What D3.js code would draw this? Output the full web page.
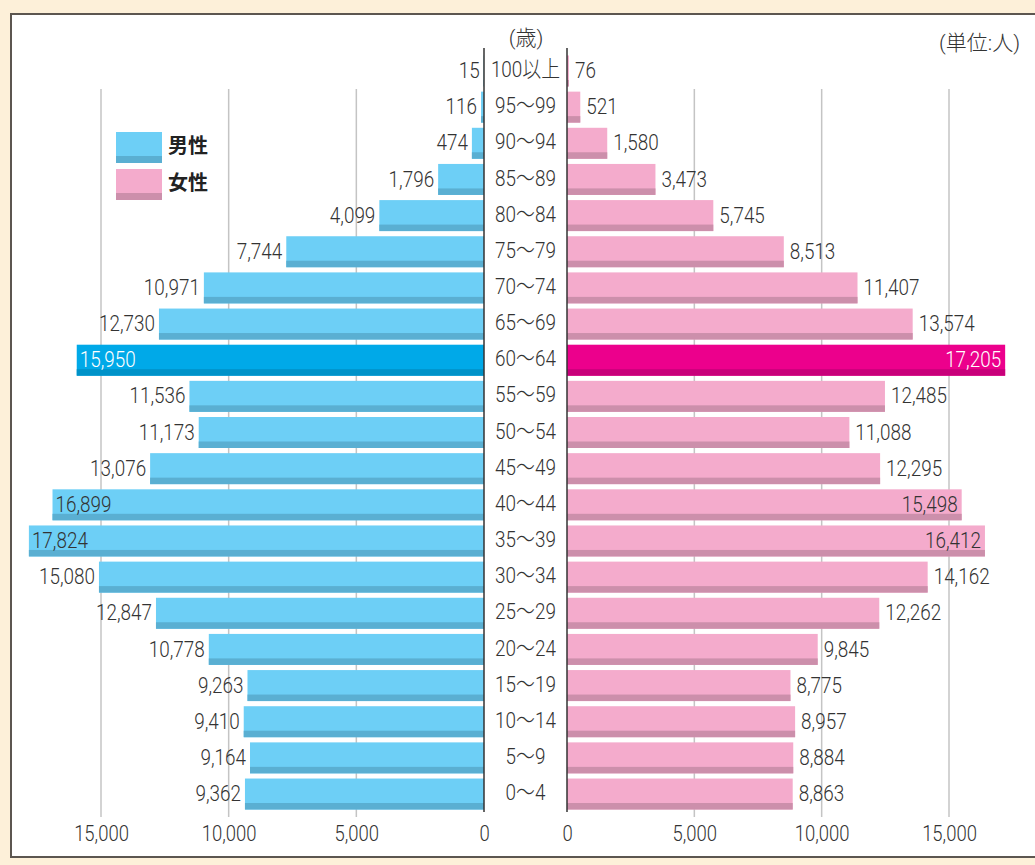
<!DOCTYPE html>
<meta charset="utf-8">
<style>
body { margin: 0; background: #fdf0d9; }
svg { display: block; }
.num { font-family: Roboto, "Noto Sans CJK JP", sans-serif; font-weight: 300; font-size: 22.5px; fill: #333; }
.head { font-family: Roboto, "Noto Sans CJK JP", sans-serif; font-weight: 300; font-size: 21px; fill: #333; }
.grid { stroke: #c4c4c4; stroke-width: 1.5; }
.axis path { display: none; }
.axis line { display: none; }
.axis text { font-family: Roboto, sans-serif; font-weight: 300; font-size: 22px; fill: #333; }
.legend { font-family: "Noto Sans CJK JP", sans-serif; font-size: 20px; font-weight: bold; fill: #222; }
</style>
<body>
<script src="https://d3js.org/d3.v7.min.js"></script>
<script>

var ages = ["100以上", "95～99", "90～94", "85～89", "80～84", "75～79", "70～74", "65～69",
  "60～64", "55～59", "50～54", "45～49", "40～44", "35～39", "30～34", "25～29",
  "20～24", "15～19", "10～14", "5～9", "0～4"];

var male = [15, 116, 474, 1796, 4099, 7744, 10971, 12730, 15950, 11536, 11173, 13076,
  16899, 17824, 15080, 12847, 10778, 9263, 9410, 9164, 9362];

var female = [76, 521, 1580, 3473, 5745, 8513, 11407, 13574, 17205, 12485, 11088, 12295,
  15498, 16412, 14162, 12262, 9845, 8775, 8957, 8884, 8863];

var ticks = [0, 5000, 10000, 15000];
var highlight = "60～64";

var width = 1035,
    height = 865;

// the original type is a narrow face, so squeeze the text a bit
var squeeze = 0.84;

var svg = d3.select("body").append("svg")
    .attr("width", width)
    .attr("height", height);

// white panel
svg.append("rect")
    .attr("x", 11).attr("y", 14)
    .attr("width", width + 20).attr("height", 843)
    .attr("fill", "#fff")
    .attr("stroke", "#5c5650")
    .attr("stroke-width", 2);

var xL = d3.scaleLinear().domain([0, 15000]).range([484, 101]);
var xR = d3.scaleLinear().domain([0, 15000]).range([567, 949]);

var y = d3.scaleBand()
    .domain(ages)
    .range([52.9, 812.1])
    .paddingInner(0.143)
    .paddingOuter(0.0715);

var rows = ages.map(function(a, i) { return {age: a, m: male[i], f: female[i]}; });

function place(x, yy) {
  return "translate(" + x + "," + yy + ") scale(" + squeeze + ",1)";
}

// grid lines
svg.append("g").selectAll("line")
  .data(ticks.slice(1))
  .enter().append("line")
    .attr("class", "grid")
    .attr("x1", function(d) { return xL(d); }).attr("x2", function(d) { return xL(d); })
    .attr("y1", 89).attr("y2", 817);

svg.append("g").selectAll("line")
  .data(ticks.slice(1))
  .enter().append("line")
    .attr("class", "grid")
    .attr("x1", function(d) { return xR(d); }).attr("x2", function(d) { return xR(d); })
    .attr("y1", 89).attr("y2", 817);

var strip = 6.5;

// male bars
var gm = svg.append("g").selectAll("g")
  .data(rows)
  .enter().append("g");

gm.append("rect")
    .attr("x", function(d) { return xL(d.m); })
    .attr("y", function(d) { return y(d.age); })
    .attr("width", function(d) { return xL(0) - xL(d.m); })
    .attr("height", y.bandwidth())
    .attr("fill", function(d) { return d.age == highlight ? "#00a9e8" : "#6dcff6"; });

gm.append("rect")
    .attr("x", function(d) { return xL(d.m); })
    .attr("y", function(d) { return y(d.age) + y.bandwidth() - strip; })
    .attr("width", function(d) { return xL(0) - xL(d.m); })
    .attr("height", strip)
    .attr("fill", function(d) { return d.age == highlight ? "#0092c8" : "#5aafd2"; });

gm.append("text")
    .attr("class", "num")
    .attr("transform", function(d) {
      return place(d.m > 15500 ? xL(d.m) + 3 : xL(d.m) - 4, y(d.age) + y.bandwidth() / 2 - 1);
    })
    .attr("dy", "0.36em")
    .attr("text-anchor", function(d) { return d.m > 15500 ? "start" : "end"; })
    .style("fill", function(d) { return d.age == highlight ? "#fff" : null; })
    .text(function(d) { return d3.format(",")(d.m); });

// female bars
var gf = svg.append("g").selectAll("g")
  .data(rows)
  .enter().append("g");

gf.append("rect")
    .attr("x", xR(0))
    .attr("y", function(d) { return y(d.age); })
    .attr("width", function(d) { return xR(d.f) - xR(0); })
    .attr("height", y.bandwidth())
    .attr("fill", function(d) { return d.age == highlight ? "#ec008c" : "#f4abcc"; });

gf.append("rect")
    .attr("x", xR(0))
    .attr("y", function(d) { return y(d.age) + y.bandwidth() - strip; })
    .attr("width", function(d) { return xR(d.f) - xR(0); })
    .attr("height", strip)
    .attr("fill", function(d) { return d.age == highlight ? "#c8007a" : "#cc8fab"; });

gf.append("text")
    .attr("class", "num")
    .attr("transform", function(d) {
      return place(d.f > 15000 ? xR(d.f) - 4 : xR(d.f) + 6, y(d.age) + y.bandwidth() / 2 - 1);
    })
    .attr("dy", "0.36em")
    .attr("text-anchor", function(d) { return d.f > 15000 ? "end" : "start"; })
    .style("fill", function(d) { return d.age == highlight ? "#fff" : null; })
    .text(function(d) { return d3.format(",")(d.f); });

// age labels
svg.append("g").selectAll("text")
  .data(rows)
  .enter().append("text")
    .attr("class", "num")
    .attr("transform", function(d) { return place(525.5, y(d.age) + y.bandwidth() / 2 - 2); })
    .attr("dy", "0.36em")
    .attr("text-anchor", "middle")
    .text(function(d) { return d.age; });

// center lines
svg.append("line")
    .attr("x1", xL(0)).attr("x2", xL(0)).attr("y1", 48).attr("y2", 812)
    .attr("stroke", "#333").attr("stroke-width", 1.5);
svg.append("line")
    .attr("x1", xR(0)).attr("x2", xR(0)).attr("y1", 48).attr("y2", 812)
    .attr("stroke", "#333").attr("stroke-width", 1.5);

// axes
svg.append("g")
    .attr("class", "axis")
    .attr("transform", "translate(0,822)")
    .call(d3.axisBottom(xL).tickValues(ticks).tickSize(0).tickFormat(d3.format(",")));
svg.append("g")
    .attr("class", "axis")
    .attr("transform", "translate(0,822)")
    .call(d3.axisBottom(xR).tickValues(ticks).tickSize(0).tickFormat(d3.format(",")));
svg.selectAll(".axis text").attr("transform", "scale(" + squeeze + ",1)");

// headers
svg.append("text")
    .attr("class", "head")
    .attr("x", 526).attr("y", 37)
    .attr("dy", "0.36em")
    .attr("text-anchor", "middle")
    .text("(歳)");

svg.append("text")
    .attr("class", "head")
    .attr("x", 1020).attr("y", 42)
    .attr("dy", "0.36em")
    .attr("text-anchor", "end")
    .text("(単位:人)");

// legend
var legend = [{name: "男性", top: "#6dcff6", bottom: "#5aafd2"},
              {name: "女性", top: "#f4abcc", bottom: "#cc8fab"}];

var lg = svg.append("g").selectAll("g")
  .data(legend)
  .enter().append("g")
    .attr("transform", function(d, i) { return "translate(116," + (132 + i * 37) + ")"; });

lg.append("rect").attr("width", 46).attr("height", 31).attr("fill", function(d) { return d.top; });
lg.append("rect").attr("y", 24).attr("width", 46).attr("height", 7).attr("fill", function(d) { return d.bottom; });
lg.append("text")
    .attr("class", "legend")
    .attr("x", 52).attr("y", 14)
    .attr("dy", "0.36em")
    .text(function(d) { return d.name; });

</script>
